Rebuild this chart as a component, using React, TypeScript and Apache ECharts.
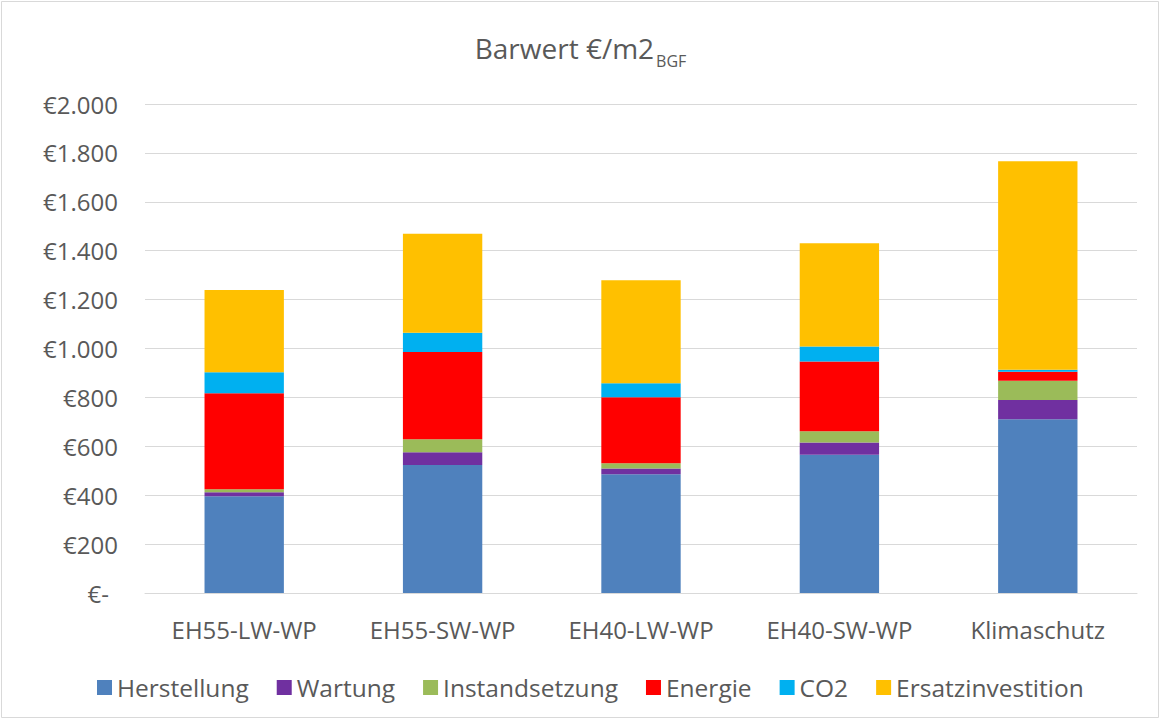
import React, { useEffect, useRef } from "react";
import * as echarts from "echarts";

const categories = ["EH55-LW-WP", "EH55-SW-WP", "EH40-LW-WP", "EH40-SW-WP", "Klimaschutz"];
const herstellung = [396, 524, 486, 565, 711];
const wartung = [16, 52, 23, 51, 78];
const instandsetzung = [12, 53, 22, 46, 79];
const energie = [393, 357, 270, 285, 37];
const co2 = [86, 78, 57, 61, 8];
const ersatzinvestition = [336, 405, 421, 422, 853];

const seriesDefs = [
  { name: "Herstellung", data: herstellung, color: "#4F81BD" },
  { name: "Wartung", data: wartung, color: "#7030A0" },
  { name: "Instandsetzung", data: instandsetzung, color: "#9BBB59" },
  { name: "Energie", data: energie, color: "#FF0000" },
  { name: "CO2", data: co2, color: "#00B0F0" },
  { name: "Ersatzinvestition", data: ersatzinvestition, color: "#FFC000" },
];

const FONT = "'Open Sans', 'Noto Sans', sans-serif";

function fmt(v: number): string {
  if (v === 0) return "{z|€-}";
  return "€" + String(v).replace(/\B(?=(\d{3})+(?!\d))/g, ".");
}

export default function App() {
  const ref = useRef<HTMLDivElement>(null);
  useEffect(() => {
    document.body.style.margin = "0";
    const chart = echarts.init(ref.current!, null, { renderer: "svg" });
    chart.setOption({
      animation: false,
      backgroundColor: "#fff",
      textStyle: { fontFamily: FONT },
      title: {
        text: "{a|Barwert €/m2}{b|BGF}",
        left: "center",
        top: 21,
        textStyle: {
          fontWeight: "normal",
          rich: {
            a: { fontFamily: FONT, fontSize: 28, color: "#595959", fontWeight: "normal" },
            b: {
              fontFamily: FONT,
              fontSize: 16,
              color: "#595959",
              fontWeight: "normal",
              padding: [27, 0, 0, 2],
            },
          },
        },
      },
      graphic: [
        {
          type: "rect",
          shape: { x: 1.5, y: 1.5, width: 1157, height: 716 },
          style: { fill: "none", stroke: "#D9D9D9", lineWidth: 1 },
          silent: true,
        },
      ],
      legend: {
        top: 670,
        left: 92,
        itemWidth: 15,
        itemHeight: 15,
        itemGap: 28,
        icon: "rect",
        textStyle: { fontFamily: FONT, fontSize: 24.5, color: "#595959" },
        data: seriesDefs.map((s) => s.name),
      },
      grid: { left: 145, right: 24, top: 104, bottom: 127 },
      xAxis: {
        type: "category",
        data: categories,
        axisLine: { lineStyle: { color: "#D9D9D9", width: 1 } },
        axisTick: { show: false },
        axisLabel: { fontFamily: FONT, fontSize: 24, color: "#595959", margin: 24 },
      },
      yAxis: {
        type: "value",
        min: 0,
        max: 2000,
        interval: 200,
        axisLine: { show: false },
        axisTick: { show: false },
        splitLine: { lineStyle: { color: "#D9D9D9", width: 1 } },
        axisLabel: {
          fontFamily: FONT,
          fontSize: 24,
          color: "#595959",
          margin: 27,
          formatter: fmt,
          rich: {
            z: { fontFamily: FONT, fontSize: 24, color: "#595959", padding: [0, 9, 0, 0] },
          },
        },
      },
      series: seriesDefs.map((s) => ({
        name: s.name,
        type: "bar",
        stack: "total",
        barWidth: "40%",
        data: s.data,
        itemStyle: { color: s.color },
      })),
    });
    return () => chart.dispose();
  }, []);
  return <div ref={ref} style={{ width: 1161, height: 720 }} />;
}
